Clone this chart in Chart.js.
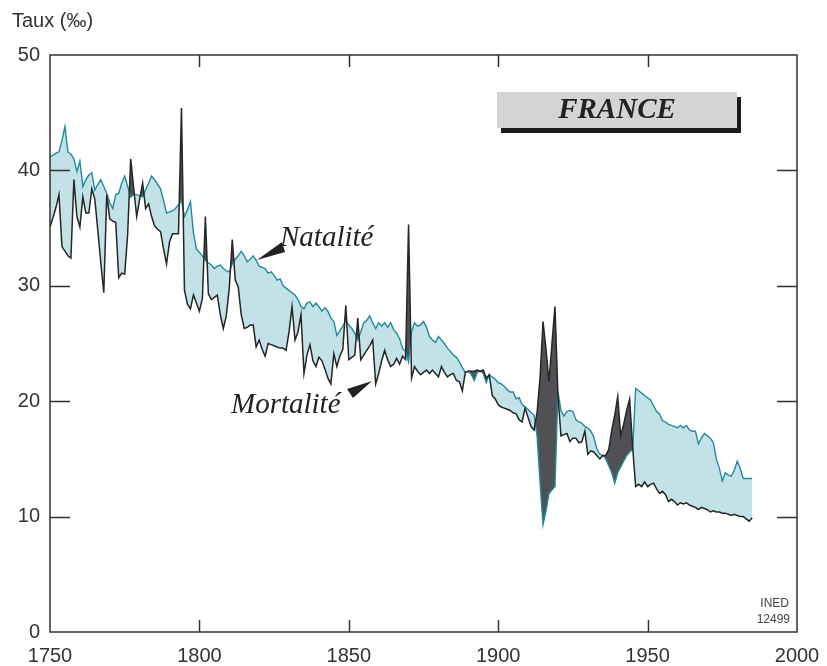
<!DOCTYPE html>
<html>
<head>
<meta charset="utf-8">
<title>France - natalité et mortalité</title>
<script src="https://cdn.jsdelivr.net/npm/chart.js@4.4.1/dist/chart.umd.min.js"></script>
<style>
  body { margin: 0; background: #fff; }
  #wrap { width: 827px; height: 666px; }
</style>
</head>
<body>
<div id="wrap"><canvas id="chart" width="827" height="666"></canvas></div>
<script>
// annual rates per 1000, 1750 -> 1985
var firstYear = 1750;

var natalite = [
  41.2, 41.3, 41.5, 41.6, 42.6, 43.8, 41.6, 41.4, 41.0, 39.9,
  40.8, 38.6, 39.2, 39.6, 39.8, 38.3, 38.8, 39.2, 38.6, 38.0,
  37.2, 36.7, 37.9, 38.0, 38.9, 39.5, 38.6, 37.7, 37.9, 37.9,
  37.8, 37.7, 38.3, 38.9, 39.5, 39.2, 38.8, 38.4, 37.4, 36.3,
  36.4, 36.5, 36.7, 37.0, 37.4, 36.0, 36.6, 37.3, 34.6, 33.2,
  32.9, 32.6, 32.2, 32.0, 31.8, 31.5, 31.7, 31.8, 31.5, 31.3,
  31.2, 31.9, 32.3, 32.6, 33.0, 32.6, 32.1, 32.3, 32.6, 32.2,
  31.7, 31.6, 31.5, 31.1, 31.2, 30.9, 30.5, 30.6, 30.0, 29.8,
  29.6, 29.4, 29.2, 28.8, 28.2, 28.0, 28.5, 28.6, 28.2, 28.5,
  28.2, 27.8, 28.1, 27.8, 27.2, 26.9, 25.7, 26.1, 26.5, 27.0,
  26.6, 26.3, 25.9, 25.3, 26.0, 26.8, 27.0, 27.4, 26.8, 26.3,
  26.8, 26.5, 26.8, 26.4, 26.8, 26.2, 25.9, 25.4, 24.6, 24.3,
  23.4, 26.0, 26.8, 26.5, 26.6, 26.9, 26.4, 25.6, 25.3, 25.1,
  25.6, 25.3, 25.0, 24.6, 24.3, 24.0, 23.8, 23.4, 22.9, 22.5,
  22.6, 22.3, 21.8, 22.5, 22.6, 22.4, 21.6, 22.3, 22.1, 21.9,
  21.6, 21.5, 21.3, 21.0, 20.8, 20.8, 20.2, 20.3, 19.7, 19.5,
  19.3, 19.0, 18.8, 17.0, 13.0, 9.3, 10.5, 12.0, 12.3, 12.6,
  20.8, 19.2, 18.7, 19.1, 19.2, 19.1, 18.4, 18.2, 18.1, 17.8,
  17.7, 17.4, 16.9, 15.9, 15.4, 15.3, 15.0, 14.4, 13.8, 12.9,
  13.8, 14.3, 14.8, 15.3, 15.6, 15.8, 21.1, 20.9, 20.7, 20.5,
  20.3, 20.1, 19.6, 19.1, 18.9, 18.3, 18.2, 18.0, 17.9, 17.8,
  17.7, 17.9, 17.7, 17.9, 17.5, 17.4, 17.4, 16.3, 16.8, 17.2,
  17.0, 16.8, 16.4, 15.0, 14.2, 13.1, 13.8, 13.6, 13.5, 14.0,
  14.8, 14.2, 13.3, 13.3, 13.3, 13.3
];

var mortalite = [
  35.1, 35.9, 36.8, 37.9, 33.4, 33.0, 32.6, 32.4, 39.2, 36.0,
  35.1, 37.7, 36.3, 36.3, 38.4, 37.5, 34.8, 32.0, 29.4, 37.9,
  35.8, 35.6, 35.5, 30.7, 31.1, 31.0, 34.5, 41.0, 38.5, 36.0,
  37.5, 38.9, 36.7, 37.1, 36.0, 35.2, 34.9, 34.7, 33.2, 31.9,
  33.8, 34.5, 34.5, 34.5, 45.4, 29.6, 28.4, 28.0, 29.2, 28.5,
  27.8, 28.9, 36.0, 29.3, 28.8, 29.0, 29.2, 27.5, 26.3, 27.4,
  29.8, 34.0, 30.5, 29.9, 27.5, 26.3, 26.4, 26.6, 26.6, 24.7,
  25.3, 24.5, 23.9, 25.0, 24.9, 24.8, 24.7, 24.6, 24.6, 24.4,
  26.0, 28.2, 25.3, 26.0, 27.5, 22.4, 24.0, 24.9, 23.5, 23.0,
  23.8, 23.5, 22.8, 22.0, 21.5, 24.1, 23.0, 23.9, 24.5, 28.3,
  23.6, 23.8, 24.0, 27.2, 23.6, 24.0, 24.4, 24.8, 25.3, 21.5,
  22.4, 23.5, 24.4, 23.6, 23.0, 23.2, 23.7, 23.2, 23.9, 23.6,
  35.3, 22.0, 23.0, 22.6, 22.3, 22.5, 22.7, 22.4, 22.7, 22.4,
  22.1, 23.0, 22.5, 22.1, 22.3, 22.4, 21.8, 21.7, 20.9, 22.5,
  22.6, 22.6, 22.6, 22.7, 22.6, 22.7, 22.0, 22.3, 20.5, 20.2,
  19.7, 19.5, 19.4, 19.3, 19.2, 19.0, 18.9, 18.4, 18.2, 19.4,
  18.6, 17.8, 17.5, 19.0, 22.0, 26.9, 24.5, 21.7, 25.0, 28.2,
  20.5, 17.0, 17.1, 17.2, 16.5, 16.8, 16.8, 16.4, 16.5, 17.4,
  15.4, 15.7, 15.6, 15.3, 15.0, 15.3, 15.3, 15.8, 17.5, 18.8,
  20.4, 17.0, 18.0, 19.2, 20.2, 16.0, 12.6, 12.8, 12.6, 13.0,
  12.6, 12.8, 12.9, 12.4, 12.0, 12.2, 11.9, 11.3, 11.5, 11.3,
  11.0, 11.2, 11.1, 11.2, 11.0, 10.9, 10.8, 10.6, 10.8, 10.7,
  10.6, 10.4, 10.5, 10.4, 10.4, 10.3, 10.3, 10.2, 10.1, 10.2,
  10.1, 10.0, 10.0, 9.8, 9.6, 9.9
];

var xTicks = [1750, 1800, 1850, 1900, 1950, 2000];
var yTicks = [0, 10, 20, 30, 40, 50];

function toPoints(values) {
  return values.map(function (v, i) {
    return { x: firstYear + i, y: v };
  });
}

var tickFont = { family: "Liberation Sans, Arial, sans-serif", size: 20 };

// box round the plot, ticks pointing inwards, labels and arrows
var framePlugin = {
  id: "frame",
  afterDatasetsDraw: function (chart) {
    var ctx = chart.ctx;
    var a = chart.chartArea;
    var xs = chart.scales.x;
    var ys = chart.scales.y;

    ctx.save();
    ctx.strokeStyle = "#333";
    ctx.lineWidth = 1.5;
    ctx.strokeRect(a.left, a.top, a.right - a.left, a.bottom - a.top);

    ctx.beginPath();
    yTicks.slice(1, -1).forEach(function (v) {
      var y = Math.round(ys.getPixelForValue(v)) + 0.5;
      ctx.moveTo(a.left, y);
      ctx.lineTo(a.left + 20, y);
      ctx.moveTo(a.right, y);
      ctx.lineTo(a.right - 20, y);
    });
    xTicks.slice(1, -1).forEach(function (v) {
      var x = Math.round(xs.getPixelForValue(v)) + 0.5;
      ctx.moveTo(x, a.bottom);
      ctx.lineTo(x, a.bottom - 12);
      ctx.moveTo(x, a.top);
      ctx.lineTo(x, a.top + 12);
    });
    ctx.stroke();

    // FRANCE box with its shadow
    ctx.fillStyle = "#1a1a1a";
    ctx.fillRect(501, 97, 240, 36);
    ctx.fillStyle = "#d4d4d6";
    ctx.fillRect(497, 92, 240, 36);
    ctx.fillStyle = "#222";
    ctx.font = "italic bold 29px 'Liberation Serif', serif";
    ctx.textAlign = "center";
    ctx.textBaseline = "middle";
    ctx.fillText("FRANCE", 617, 111);

    // series names
    ctx.textAlign = "left";
    ctx.textBaseline = "alphabetic";
    ctx.font = "italic 29px 'Liberation Serif', serif";
    ctx.fillText("Natalité", 280, 246);
    ctx.fillText("Mortalité", 231, 413);

    ctx.beginPath();
    ctx.moveTo(282, 242);
    ctx.lineTo(285, 252);
    ctx.lineTo(257, 260);
    ctx.closePath();
    ctx.moveTo(347, 389);
    ctx.lineTo(353, 398);
    ctx.lineTo(372, 381);
    ctx.closePath();
    ctx.fill();

    // axis title and source
    ctx.fillStyle = "#333";
    ctx.font = "20px 'Liberation Sans', Arial, sans-serif";
    ctx.textBaseline = "middle";
    ctx.fillText("Taux (‰)", 12, 21);

    ctx.font = "12px 'Liberation Sans Narrow', 'Liberation Sans', sans-serif";
    ctx.textAlign = "right";
    ctx.fillStyle = "#444";
    ctx.fillText("INED", 789, 604);
    ctx.fillText("12499", 790, 620);
    ctx.restore();
  }
};

var ctx = document.getElementById("chart").getContext("2d");
var chart = new Chart(ctx, {
  type: "line",
  data: {
    datasets: [
      {
        label: "Mortalité",
        data: toPoints(mortalite),
        borderColor: "#262626",
        borderWidth: 1.5,
        pointRadius: 0,
        tension: 0,
        fill: false
      },
      {
        label: "Natalité",
        data: toPoints(natalite),
        borderColor: "#1f8c9c",
        borderWidth: 1.4,
        pointRadius: 0,
        tension: 0,
        fill: { target: 0, above: "#c3e2e7", below: "#505055" }
      }
    ]
  },
  options: {
    responsive: false,
    animation: false,
    layout: { padding: { top: 55, right: 30, left: 0, bottom: 0 } },
    plugins: {
      legend: { display: false },
      tooltip: { enabled: false }
    },
    scales: {
      x: {
        type: "linear",
        min: 1750,
        max: 2000,
        afterBuildTicks: function (scale) {
          scale.ticks = xTicks.map(function (v) { return { value: v }; });
        },
        ticks: {
          font: tickFont,
          color: "#333",
          padding: 12,
          maxRotation: 0,
          autoSkip: false,
          callback: function (v) { return String(v); }
        },
        grid: { display: false, drawTicks: false },
        border: { display: false },
        afterFit: function (scale) {
          scale.height = 34;
          scale.paddingLeft = 0;
          scale.paddingRight = 0;
        }
      },
      y: {
        min: 0,
        max: 50,
        afterBuildTicks: function (scale) {
          scale.ticks = yTicks.map(function (v) { return { value: v }; });
        },
        ticks: { font: tickFont, color: "#333", padding: 10 },
        grid: { display: false, drawTicks: false },
        border: { display: false },
        afterFit: function (scale) { scale.width = 50; }
      }
    }
  },
  plugins: [framePlugin]
});
</script>
</body>
</html>
